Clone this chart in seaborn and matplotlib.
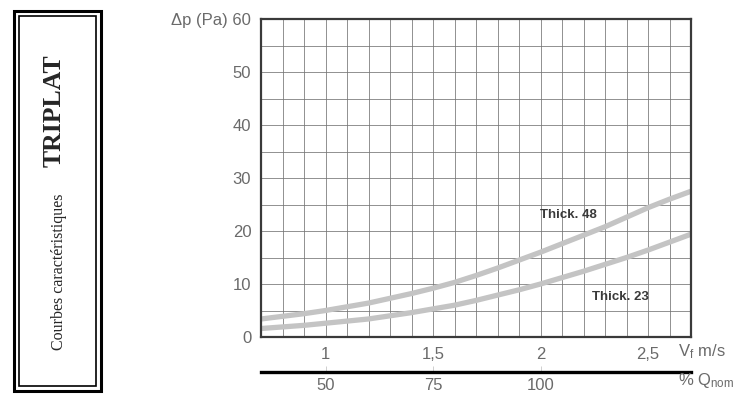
import numpy as np
import pandas as pd
import matplotlib.pyplot as plt
import seaborn as sns
from matplotlib.ticker import MultipleLocator
from matplotlib.patches import Rectangle

# ── data ─────────────────────────────────────────────
speed = [0.7, 0.8, 0.9, 1.0, 1.1, 1.2, 1.3, 1.4, 1.5, 1.6, 1.7,
         1.8, 1.9, 2.0, 2.1, 2.2, 2.3, 2.4, 2.5, 2.6, 2.7]
dp_thick48 = [3.4, 3.9, 4.4, 5.0, 5.7, 6.4, 7.3, 8.2, 9.2, 10.3, 11.6,
              13.0, 14.5, 16.0, 17.6, 19.2, 20.8, 22.6, 24.4, 26.0, 27.5]
dp_thick23 = [1.6, 1.9, 2.2, 2.6, 3.0, 3.4, 4.0, 4.6, 5.3, 6.0, 6.9,
              7.9, 8.9, 10.0, 11.2, 12.4, 13.7, 15.0, 16.4, 17.9, 19.4]

y_ticks = [0, 10, 20, 30, 40, 50, 60]
y_labels = ["0", "10", "20", "30", "40", "50", "Δp (Pa) 60"]
x_ticks = [1, 1.5, 2, 2.5]
x_labels = ["1", "1,5", "2", "2,5"]
q_ticks = [50, 75, 100]
q_labels = ["50", "75", "100"]

df = pd.DataFrame({"v": speed, "Thick. 48": dp_thick48, "Thick. 23": dp_thick23})

# ── style ─────────────────────────────────────────────
sns.set_theme(style="white")
plt.rcParams["font.family"] = ["Liberation Sans", "DejaVu Sans"]
plt.rcParams["mathtext.default"] = "regular"

W, H = 751, 401
fig = plt.figure(figsize=(W / 100, H / 100), dpi=100)

# plot area in pixels: x 261..691, y 19..337
ax = fig.add_axes([261 / W, 1 - 337 / H, 430 / W, 318 / H])

curve_col = "#c4c4c4"
sns.lineplot(data=df, x="v", y="Thick. 48", ax=ax, color=curve_col, lw=3.8)
sns.lineplot(data=df, x="v", y="Thick. 23", ax=ax, color=curve_col, lw=3.8)

ax.set_xlim(0.7, 2.7)
ax.set_ylim(0, 60)
ax.set_xlabel("")
ax.set_ylabel("")

ax.set_xticks(x_ticks)
ax.set_xticklabels(x_labels)
ax.set_yticks(y_ticks)
ax.set_yticklabels(y_labels)
ax.xaxis.set_minor_locator(MultipleLocator(0.1))
ax.yaxis.set_minor_locator(MultipleLocator(5))
ax.grid(True, which="both", color="#747474", lw=0.7, alpha=0.8)
ax.set_axisbelow(True)
ax.tick_params(which="both", length=0)
ax.tick_params(axis="x", pad=7, labelsize=12, labelcolor="#6a6a6a")
ax.tick_params(axis="y", pad=7, labelsize=12, labelcolor="#6a6a6a")

for sp in ax.spines.values():
    sp.set_visible(True)
    sp.set_color("#3a3a3a")
    sp.set_linewidth(1.6)

# curve labels
ax.text(2.13, 23.0, "Thick. 48", fontsize=9.5, fontweight="bold",
        color="#3a3a3a", ha="center", va="center")
ax.text(2.37, 7.5, "Thick. 23", fontsize=9.5, fontweight="bold",
        color="#3a3a3a", ha="center", va="center")

ax.text(0.97, -0.047, "V$_{f}$ m/s", transform=ax.transAxes,
        fontsize=12, color="#6a6a6a", ha="left", va="center")

# second scale: % of nominal flow, line sits 35 px under the plot
sec = ax.secondary_xaxis(-35 / 318, functions=(lambda v: v * 50, lambda q: q / 50))
sec.set_xticks(q_ticks)
sec.set_xticklabels(q_labels)
sec.spines["bottom"].set_linewidth(2.4)
sec.spines["bottom"].set_color("black")
sec.tick_params(direction="in", length=4, width=0.6, color="#c8c8c8",
                pad=4, labelsize=12, labelcolor="#6a6a6a")
ax.text(0.97, -0.138, "% Q$_{nom}$", transform=ax.transAxes,
        fontsize=12, color="#6a6a6a", ha="left", va="center")

# ── left title box ───────────────────────────────────
def px_rect(x0, y0, x1, y1, lw):
    r = Rectangle((x0 / W, 1 - y1 / H), (x1 - x0) / W, (y1 - y0) / H,
                  transform=fig.transFigure, fill=False, ec="black", lw=lw)
    fig.add_artist(r)

px_rect(13.5, 10.7, 100.5, 390.5, 2.2)
px_rect(19, 15.8, 96, 386, 1.2)

fig.text(54 / W, 1 - 111 / H, "TRIPLAT", rotation=90, ha="center", va="center",
         fontsize=18.5, fontweight="bold", family=["Liberation Serif", "DejaVu Serif"])
fig.text(59 / W, 1 - 272 / H, "Courbes caractéristiques", rotation=90,
         ha="center", va="center", fontsize=11.5,
         family=["Liberation Serif", "DejaVu Serif"])

fig.savefig("out.png", dpi=100)
